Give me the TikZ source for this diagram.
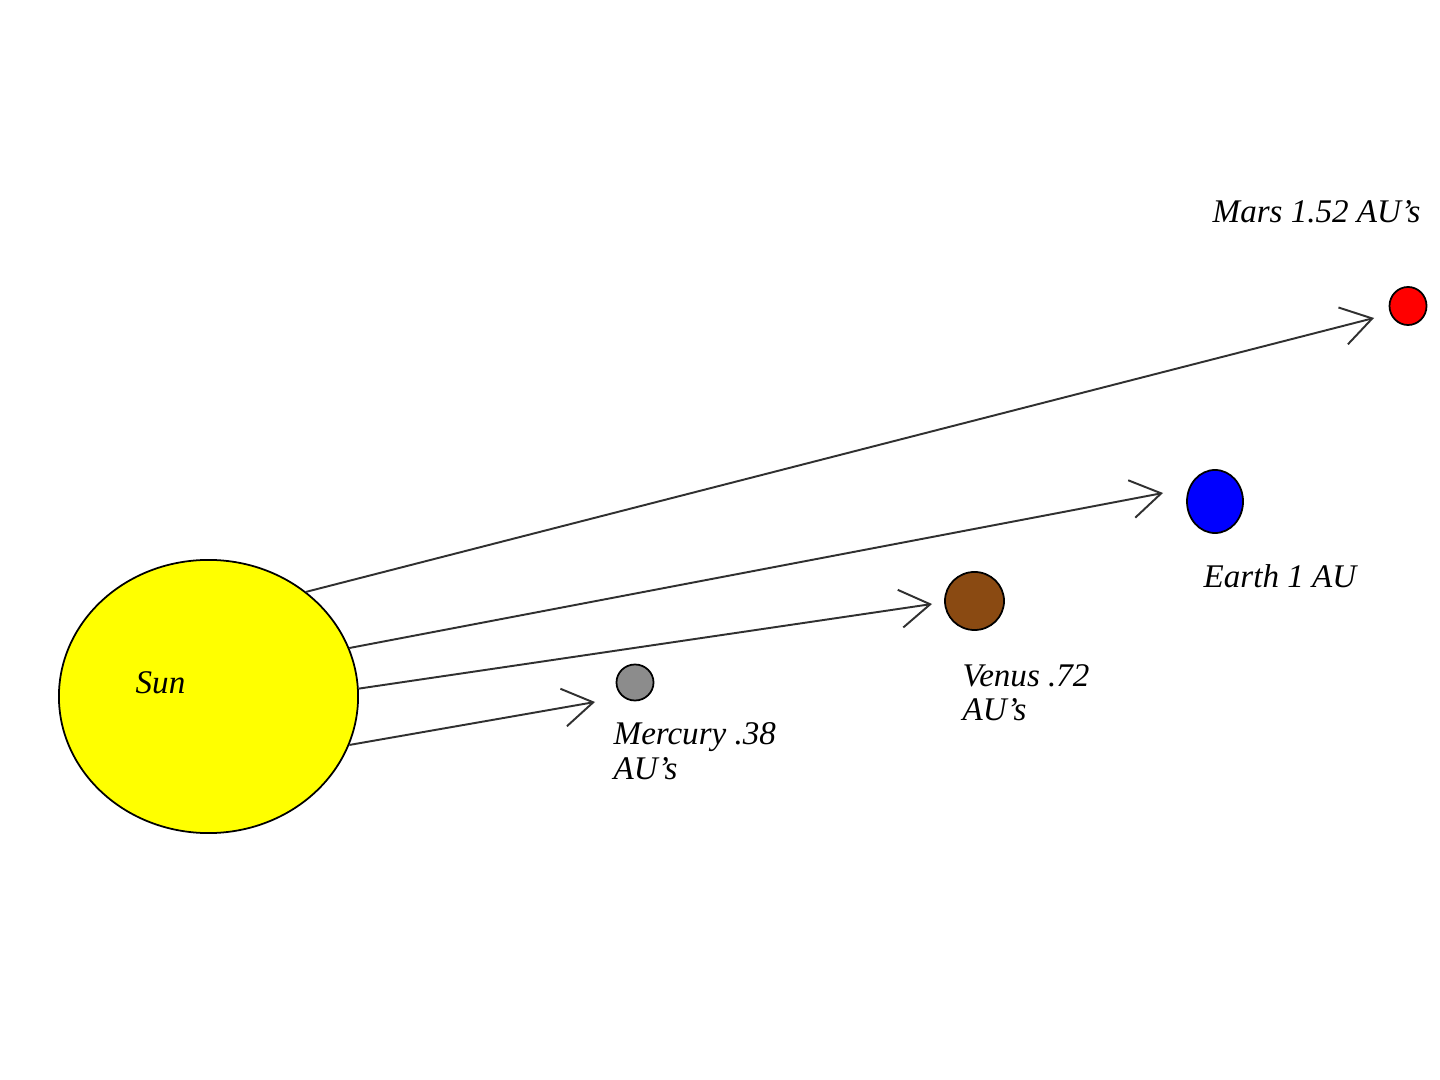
\documentclass[tikz,border=0pt]{standalone}
\usepackage{fontspec}
\setmainfont{Liberation Serif}
\usetikzlibrary{shapes.geometric,arrows.meta}
\definecolor{sunyellow}{HTML}{FFFF00}
\definecolor{mercurygray}{HTML}{8C8C8C}
\definecolor{venusbrown}{HTML}{8A4A12}
\definecolor{earthblue}{HTML}{0000FF}
\definecolor{marsred}{HTML}{FF0000}
\definecolor{linegray}{HTML}{303030}
\begin{document}
\begin{tikzpicture}[x=0.01cm,y=-0.01cm,
  body/.style={ellipse,draw=black,line width=0.5pt,inner sep=0pt},
  lbl/.style={font=\fontsize{9.4pt}{9.8pt}\selectfont\itshape,inner sep=0pt,anchor=base west,align=left},
  ray/.style={draw=linegray,line width=0.55pt,-{Straight Barb[length=0.3cm,width=0.38cm,line width=0.55pt]}}]
\useasboundingbox[fill=white] (0,0) rectangle (1440,1080);
% bodies
\node[body,fill=sunyellow,minimum width=2.99cm,minimum height=2.73cm] (sun) at (208.5,696.5) {};
\node[body,fill=mercurygray,minimum width=0.37cm,minimum height=0.36cm] (mercury) at (635,682.5) {};
\node[body,fill=venusbrown,minimum width=0.59cm,minimum height=0.58cm] (venus) at (974.5,601) {};
\node[body,fill=earthblue,minimum width=0.56cm,minimum height=0.63cm] (earth) at (1215,501.5) {};
\node[body,fill=marsred,minimum width=0.37cm,minimum height=0.38cm] (mars) at (1408,306) {};
% labels (multi-line labels: base is the baseline of the last line)
\node[lbl] (sunlbl) at (135,693) {Sun};
\node[lbl] (mercurylbl) at (613,779) {Mercury .38\\AU's};
\node[lbl] (venuslbl) at (962,721) {Venus .72\\AU's};
\node[lbl] (earthlbl) at (1203,588) {Earth 1 AU};
\node[lbl] (marslbl) at (1212,223) {Mars 1.52 AU's};
% arrow tips
\coordinate (mercurytip) at (595,702);
\coordinate (venustip) at (932,604);
\coordinate (earthtip) at (1163,493);
\coordinate (marstip) at (1374,318);
% rays
\draw[ray] (sun.-19.5) -- (mercurytip);
\draw[ray] (sun.3.8) -- (venustip);
\draw[ray] (sun.19.5) -- (earthtip);
\draw[ray] (sun.47.5) -- (marstip);
\end{tikzpicture}
\end{document}
